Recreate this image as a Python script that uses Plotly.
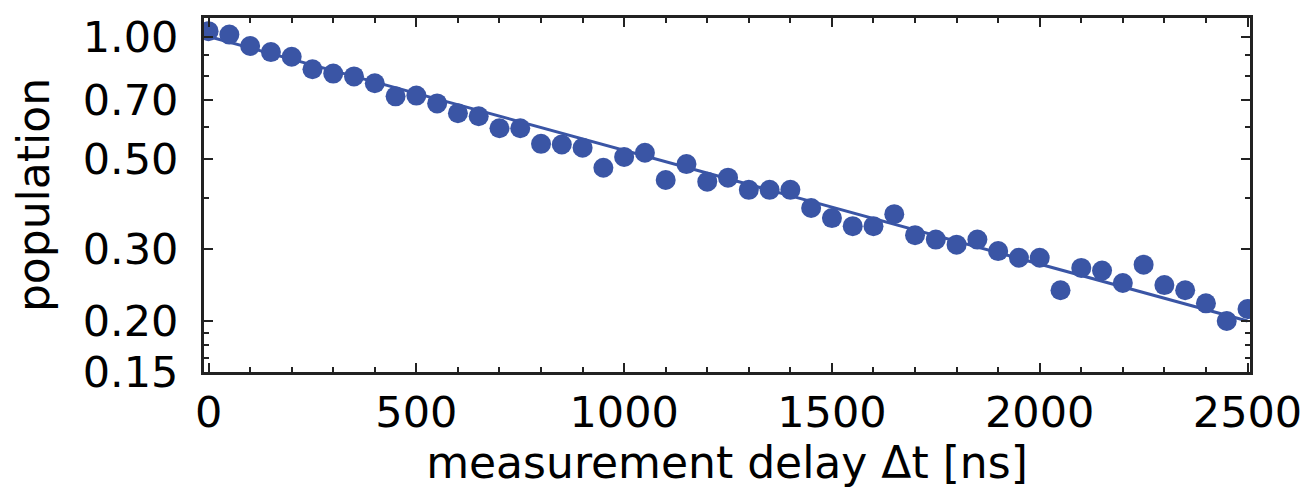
import plotly.graph_objects as go

# measurement delay (ns) and measured population
delay_ns = [0, 50, 100, 150, 200, 250, 300, 350, 400, 450, 500, 550, 600, 650, 700,
            750, 800, 850, 900, 950, 1000, 1050, 1100, 1150, 1200, 1250, 1300, 1350,
            1400, 1450, 1500, 1550, 1600, 1650, 1700, 1750, 1800, 1850, 1900, 1950,
            2000, 2050, 2100, 2150, 2200, 2250, 2300, 2350, 2400, 2450, 2500]
population = [1.031, 1.011, 0.948, 0.916, 0.892, 0.831, 0.811, 0.798, 0.768, 0.713,
              0.716, 0.685, 0.648, 0.637, 0.595, 0.595, 0.545, 0.543, 0.533, 0.476,
              0.506, 0.518, 0.444, 0.486, 0.440, 0.450, 0.420, 0.420, 0.420, 0.379,
              0.358, 0.342, 0.342, 0.366, 0.325, 0.317, 0.308, 0.317, 0.297, 0.286,
              0.286, 0.238, 0.270, 0.266, 0.248, 0.275, 0.245, 0.238, 0.221, 0.200,
              0.214]

# exponential fit (straight line on the log axis), endpoints
fit_x = [0, 2500]
fit_y = [1.0, 0.200]

y_tickvals = [0.15, 0.2, 0.3, 0.5, 0.7, 1.0]
y_ticktext = ["0.15", "0.20", "0.30", "0.50", "0.70", "1.00"]
y_minorvals = [0.162, 0.175, 0.187, 0.4, 0.6, 0.8, 0.9]
x_tickvals = [0, 500, 1000, 1500, 2000, 2500]
x_ticktext = ["0", "500", "1000", "1500", "2000", "2500"]

COLOR = "#3a55a5"
AX = "#222222"
FONT = "DejaVu Sans"

fig = go.Figure()
fig.add_trace(go.Scatter(x=fit_x, y=fit_y, mode="lines",
                         line=dict(color=COLOR, width=3), hoverinfo="skip"))
fig.add_trace(go.Scatter(x=delay_ns, y=population, mode="markers",
                         marker=dict(color=COLOR, size=20, line=dict(width=0))))

fig.update_layout(
    width=1316, height=489,
    margin=dict(l=204, r=66, t=15, b=117),
    paper_bgcolor="white", plot_bgcolor="white",
    showlegend=False,
    font=dict(family=FONT, color="black"),
)
fig.update_xaxes(
    range=[-11, 2506], showgrid=False, zeroline=False,
    showline=True, linecolor=AX, linewidth=3, mirror="ticks",
    ticks="inside", ticklen=9, tickwidth=2, tickcolor=AX,
    tickmode="array", tickvals=x_tickvals, ticktext=x_ticktext,
    tickfont=dict(size=43, family=FONT, color="black"),
    ticklabelstandoff=0,
    minor=dict(dtick=100, ticks="inside", ticklen=5, tickwidth=2, tickcolor=AX, showgrid=False),
    title=dict(text="measurement delay Δt [ns]", font=dict(size=44, family=FONT, color="black"), standoff=0),
)
fig.update_yaxes(
    type="log", range=[-0.8244, 0.0456], showgrid=False, zeroline=False,
    showline=True, linecolor=AX, linewidth=3, mirror="ticks",
    ticks="inside", ticklen=9, tickwidth=2, tickcolor=AX,
    tickmode="array", tickvals=y_tickvals, ticktext=y_ticktext,
    tickfont=dict(size=43, family=FONT, color="black"),
    ticklabelstandoff=14,
    minor=dict(tickvals=y_minorvals, ticks="inside", ticklen=5, tickwidth=2, tickcolor=AX, showgrid=False),
    title=dict(text="population", font=dict(size=44, family=FONT, color="black"), standoff=20),
)

fig.write_html("out.html")
